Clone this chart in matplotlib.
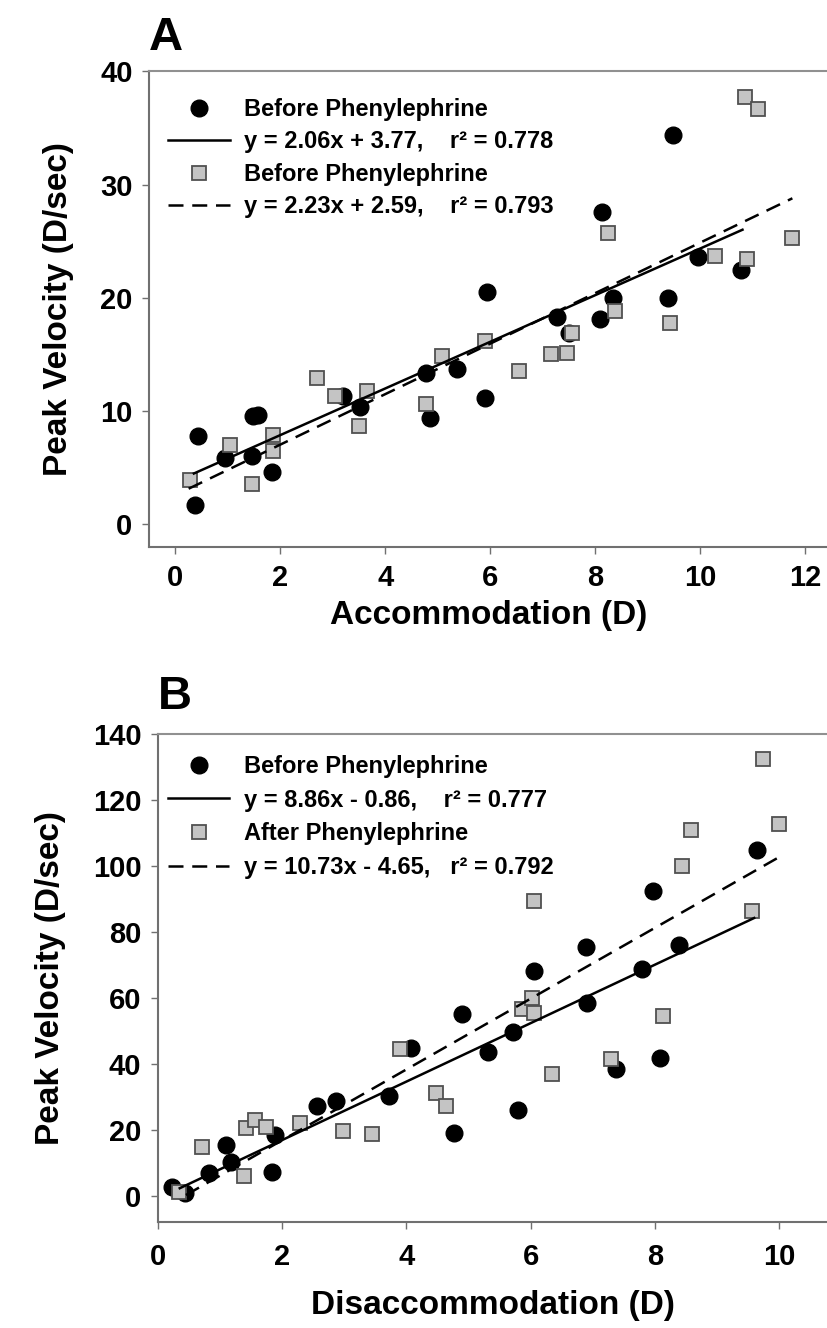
import matplotlib.pyplot as plt

plt.rcParams['font.family'] = ['Liberation Sans', 'DejaVu Sans']
plt.rcParams['font.weight'] = 'bold'
plt.rcParams['axes.labelweight'] = 'bold'

# ---- panel A: accommodation ----
a_before_x = [0.37, 0.43, 0.94, 1.45, 1.48, 1.57, 1.83, 3.2, 3.51, 4.78, 4.85, 5.36,
              5.9, 5.93, 7.26, 7.5, 8.09, 8.12, 8.34, 9.39, 9.48, 9.96, 10.78]
a_before_y = [1.7, 7.8, 5.9, 6.0, 9.55, 9.7, 4.6, 11.3, 10.4, 13.4, 9.4, 13.7,
              11.2, 20.5, 18.3, 16.9, 18.1, 27.6, 20.0, 20.0, 34.4, 23.6, 22.5]
a_after_x = [0.28, 1.04, 1.45, 1.85, 1.86, 2.69, 3.04, 3.5, 3.64, 4.78, 5.07, 5.9,
             6.55, 7.15, 7.45, 7.55, 8.24, 8.37, 9.42, 10.28, 10.88, 10.85, 11.1, 11.74]
a_after_y = [3.9, 7.0, 3.6, 7.9, 6.5, 12.9, 11.3, 8.7, 11.75, 10.6, 14.9, 16.2,
             13.5, 15.0, 15.1, 16.9, 25.7, 18.8, 17.8, 23.7, 23.4, 37.7, 36.7, 25.3]
a_fit1 = (2.06, 3.77)
a_fit1_x = [0.35, 10.8]
a_fit2 = (2.23, 2.59)
a_fit2_x = [0.25, 11.75]
a_labels = ['Before Phenylephrine', 'y = 2.06x + 3.77,    r\u00b2 = 0.778',
            'Before Phenylephrine', 'y = 2.23x + 2.59,    r\u00b2 = 0.793']

# ---- panel B: disaccommodation ----
b_before_x = [0.23, 0.44, 0.82, 1.09, 1.17, 1.84, 1.89, 2.56, 2.86, 3.72, 4.07, 4.76,
              4.9, 5.31, 5.71, 5.79, 6.06, 6.89, 6.91, 7.38, 7.79, 7.97, 8.08, 8.39, 9.65]
b_before_y = [2.7, 0.7, 6.8, 15.4, 10.3, 7.3, 18.5, 27.1, 28.6, 30.1, 44.8, 19.0,
              55.0, 43.5, 49.7, 25.9, 68.0, 75.3, 58.5, 38.3, 68.8, 92.5, 41.8, 76.1, 104.9]
b_after_x = [0.34, 0.71, 1.38, 1.41, 1.57, 1.74, 2.29, 2.98, 3.44, 3.9, 4.48, 4.64,
             5.86, 6.03, 6.05, 6.05, 6.35, 7.29, 8.13, 8.44, 8.59, 9.56, 9.75, 10.0]
b_after_y = [1.0, 14.6, 6.1, 20.5, 23.0, 20.7, 22.0, 19.5, 18.7, 44.6, 31.1, 27.1,
             56.5, 60.0, 55.3, 89.5, 36.9, 41.3, 54.5, 100.1, 111.0, 86.4, 132.3, 112.6]
b_fit1 = (8.86, -0.86)
b_fit1_x = [0.35, 9.6]
b_fit2 = (10.73, -4.65)
b_fit2_x = [0.45, 10.0]
b_labels = ['Before Phenylephrine', 'y = 8.86x - 0.86,    r\u00b2 = 0.777',
            'After Phenylephrine', 'y = 10.73x - 4.65,   r\u00b2 = 0.792']

W, H = 828, 1328
fig = plt.figure(figsize=(W / 100, H / 100), dpi=100)

def panel(rect, bx, by, ax_, ay_, fit1, fx1, fit2, fx2, labels, xlim, ylim, xticks, yticks,
          xlabel, letter, leg_anchor, letter_y, xpad, xlabpad, lspace):
    ax = fig.add_axes(rect)
    circ, = ax.plot(bx, by, 'o', ls='none', ms=12, color='black', zorder=2)
    sq, = ax.plot(ax_, ay_, 's', ls='none', ms=10.5, mfc='#c4c4c4', mec='#505050',
                  mew=1.3, zorder=3)
    l1, = ax.plot(fx1, [fit1[0] * x + fit1[1] for x in fx1], color='black', lw=1.8, zorder=4)
    l2, = ax.plot(fx2, [fit2[0] * x + fit2[1] for x in fx2], color='black', lw=1.8,
                  ls=(0, (6, 3.5)), zorder=4)
    ax.set_xlim(*xlim)
    ax.set_ylim(*ylim)
    ax.set_xticks(xticks)
    ax.set_yticks(yticks)
    for s in ['left', 'bottom', 'top']:
        ax.spines[s].set_color('#707070')
        ax.spines[s].set_linewidth(1.5)
    ax.spines['top'].set_color('#909090')
    ax.spines['right'].set_visible(False)
    ax.tick_params(direction='out', length=5, width=1, color='#707070', labelsize=21)
    ax.tick_params(axis='y', pad=7)
    ax.tick_params(axis='x', pad=xpad)
    ax.set_xlabel(xlabel, fontsize=24, labelpad=xlabpad)
    ax.set_ylabel('Peak Velocity (D/sec)', fontsize=24, labelpad=19)
    ax.legend([circ, l1, sq, l2], labels, loc='upper left', bbox_to_anchor=leg_anchor,
              frameon=False, fontsize=17, handlelength=2.6, handletextpad=0.6,
              labelspacing=lspace, borderpad=0, borderaxespad=0, numpoints=1)
    ax.text(0.0, letter_y, letter, transform=ax.transAxes, fontsize=34, fontweight='bold',
            va='bottom', ha='left')
    return ax

xa_right = -0.5 + (W - 149.25) / 52.5
panel([149.25 / W, 1 - 547 / H, 1 - 149.25 / W, (547 - 71.4) / H],
      a_before_x, a_before_y, a_after_x, a_after_y, a_fit1, a_fit1_x, a_fit2, a_fit2_x,
      a_labels, (-0.5, xa_right), (-2, 40), range(0, 13, 2), range(0, 41, 10),
      'Accommodation (D)', 'A', (0.028, 0.944), 1.024, 7, 6, 0.4)

xb_right = (W - 158) / 62.1
panel([158 / W, 1 - 1222 / H, 1 - 158 / W, (1222 - 734) / H],
      b_before_x, b_before_y, b_after_x, b_after_y, b_fit1, b_fit1_x, b_fit2, b_fit2_x,
      b_labels, (0, xb_right), (-8, 140), range(0, 11, 2), range(0, 141, 20),
      'Disaccommodation (D)', 'B', (0.015, 0.957), 1.03, 10, 14, 0.45)

fig.savefig('out.png', dpi=100)
